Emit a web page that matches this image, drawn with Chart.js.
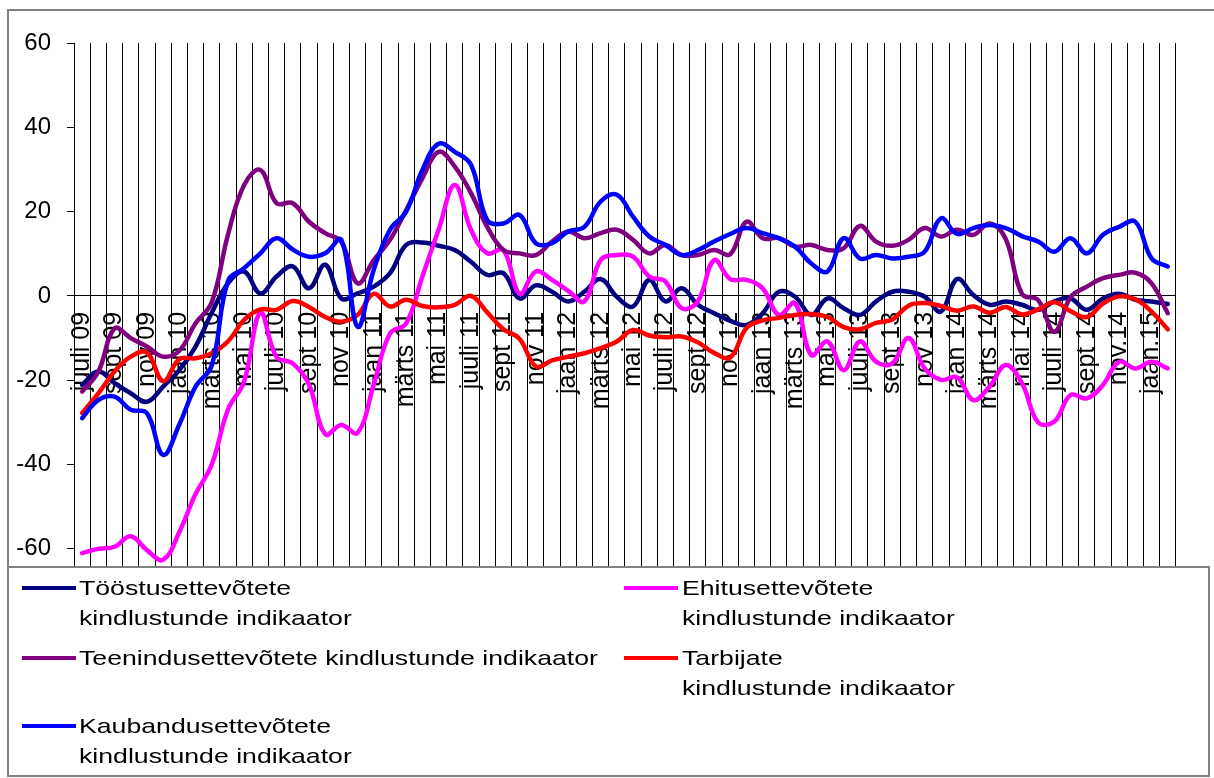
<!DOCTYPE html>
<html>
<head>
<meta charset="utf-8">
<script src="https://cdn.jsdelivr.net/npm/chart.js@4/dist/chart.umd.min.js"></script>
<style>
  html, body { margin: 0; padding: 0; background: #fff; }
  canvas { display: block; }
</style>
</head>
<body>
<canvas id="c" width="1214" height="778"></canvas>
<script>
// ---- Data (monthly, juuli 2009 – veebruar 2015) ----
const months = [
  "juuli 09","","sept 09","","nov 09","","jaan 10","","märts 10","",
  "mai 10","","juuli 10","","sept 10","","nov 10","","jaan 11","",
  "märts 11","","mai 11","","juuli 11","","sept 11","","nov 11","",
  "jaan 12","","märts 12","","mai 12","","juuli 12","","sept 12","",
  "nov 12","","jaan 13","","märts 13","","mai 13","","juuli 13","",
  "sept 13","","nov 13","","jaan 14","","märts 14","","mai 14","",
  "juuli 14","","sept 14","","nov.14","","jaan.15",""
];

const toostus = [
  -21.1, -17.9, -20.7, -23.1, -25.1, -21.5, -17.6, -12.0, -4.0, 3.0,
  5.8, 0.6, 4.6, 7.0, 1.8, 7.4, -0.6, 0.6, 2.2, 5.4,
  12.1, 12.7, 11.9, 10.9, 8.1, 5.0, 5.4, -0.6, 2.5, 1.0,
  -1.3, 1.0, 4.0, -0.2, -2.5, 3.8, -1.3, 1.8, -2.1, -4.1,
  -5.9, -6.9, -4.1, 1.0, -0.2, -4.5, -0.6, -2.9, -4.5, -1.3,
  1.0, 1.0, -0.2, -3.7, 4.0, 0.2, -2.1, -1.3, -2.1, -3.3,
  -1.3, -0.6, -3.3, -0.6, 0.5, -0.9, -1.3, -1.9
];
const ehitus = [
  -61.0, -60.0, -59.5, -57.0, -60.3, -62.6, -56.0, -47.0, -40.0, -27.0,
  -20.3, -4.0, -14.5, -16.0, -21.0, -32.8, -30.6, -32.5, -21.0, -8.9,
  -6.5, 4.6, 15.7, 26.3, 15.7, 10.1, 10.9, 0.5, 5.8, 3.8,
  1.2, -1.3, 8.5, 9.7, 9.3, 4.6, 3.4, -2.9, -1.3, 8.5,
  4.0, 3.8, 1.8, -4.5, -1.7, -14.0, -10.8, -17.6, -10.8, -15.6,
  -16.0, -10.0, -17.2, -19.9, -19.3, -24.7, -21.5, -16.4, -20.7, -30.0,
  -29.8, -23.5, -24.3, -21.1, -15.6, -17.2, -15.6, -17.2
];
const teenindus = [
  -22.7, -18.0, -7.7, -10.0, -12.0, -14.4, -13.0, -6.5, -1.5, 14.5,
  26.3, 29.9, 22.0, 22.0, 17.6, 14.9, 12.8, 3.0, 8.5, 13.3,
  20.4, 27.9, 34.2, 30.7, 24.4, 16.4, 10.9, 10.1, 9.7, 12.9,
  15.3, 13.7, 14.9, 15.7, 13.3, 10.1, 12.1, 9.7, 9.7, 10.9,
  9.9, 17.6, 13.7, 13.7, 11.7, 12.1, 10.9, 11.3, 16.6, 12.9,
  11.9, 13.3, 16.1, 14.1, 15.7, 14.5, 17.2, 13.5, 0.5, -1.0,
  -8.5, -0.3, 2.2, 4.2, 5.0, 5.5, 3.0, -4.1
];
const tarbijate = [
  -27.8, -23.1, -17.9, -14.4, -13.4, -20.2, -15.0, -14.8, -13.6, -10.8,
  -5.7, -3.2, -3.3, -1.2, -2.6, -5.0, -6.1, -4.5, 0.5, -2.5,
  -0.9, -2.4, -2.7, -2.1, 0.0, -3.9, -7.9, -10.2, -16.7, -15.3,
  -14.4, -13.6, -12.4, -10.8, -8.1, -9.4, -9.8, -9.6, -11.0, -13.5,
  -14.6, -7.6, -5.8, -5.2, -4.5, -4.3, -5.0, -7.4, -7.9, -6.4,
  -5.6, -2.3, -1.7, -2.4, -3.5, -2.5, -4.0, -2.6, -4.4, -3.2,
  -1.5, -3.6, -5.0, -1.8, -0.1, -0.8, -3.7, -7.9
];
const kaubandus = [
  -29.0, -24.7, -23.9, -27.0, -27.8, -37.7, -30.5, -21.5, -16.5, 3.5,
  6.6, 10.1, 13.7, 11.0, 9.3, 10.1, 13.3, -7.3, 6.2, 15.7,
  20.0, 29.9, 36.1, 34.2, 31.1, 18.0, 17.2, 19.2, 12.5, 12.5,
  15.3, 16.4, 22.4, 24.0, 18.8, 14.1, 12.1, 9.7, 10.9, 12.9,
  14.7, 16.1, 14.9, 13.7, 11.7, 7.7, 5.8, 13.7, 8.9, 9.7,
  8.9, 9.3, 10.5, 18.4, 14.7, 16.1, 16.8, 16.1, 14.2, 12.9,
  10.5, 13.7, 10.1, 14.5, 16.4, 17.6, 8.9, 7.0
];
const yTicks = [-60, -40, -20, 0, 20, 40, 60];

const seriesNames = {
  toostus: ["Tööstusettevõtete", "kindlustunde indikaator"],
  ehitus: ["Ehitusettevõtete", "kindlustunde indikaator"],
  teenindus: ["Teenindusettevõtete kindlustunde indikaator"],
  tarbijate: ["Tarbijate", "kindlustunde indikaator"],
  kaubandus: ["Kaubandusettevõtete", "kindlustunde indikaator"]
};
const colors = {
  toostus: "#000080", ehitus: "#FF00FF", teenindus: "#800080",
  tarbijate: "#FF0000", kaubandus: "#0000FF"
};

const FONT = 'Arial, "Liberation Sans", sans-serif';

function ds(key, data) {
  return {
    label: seriesNames[key].join(" "),
    data: data,
    borderColor: colors[key],
    backgroundColor: colors[key],
    borderWidth: 4.5,
    pointRadius: 0,
    pointHoverRadius: 0,
    tension: 0.4,
    fill: false,
    borderCapStyle: "round",
    borderJoinStyle: "round"
  };
}

// legend layout: [key, column, row]
const legendLayout = [
  ["toostus", 0, 0], ["ehitus", 1, 0],
  ["teenindus", 0, 1], ["tarbijate", 1, 1],
  ["kaubandus", 0, 2]
];

const framePlugin = {
  id: "frame",
  beforeDraw(chart) {
    const ctx = chart.ctx;
    ctx.save();
    ctx.fillStyle = "#fff";
    ctx.fillRect(0, 0, chart.width, chart.height);
    ctx.restore();
  },
  afterDraw(chart) {
    const ctx = chart.ctx;
    ctx.save();
    // outer chart border (top & left visible)
    ctx.strokeStyle = "#808080";
    ctx.lineWidth = 2;
    ctx.beginPath();
    ctx.moveTo(8, 776);
    ctx.lineTo(8, 10);
    ctx.lineTo(1214, 10);
    ctx.stroke();
    // legend box
    ctx.fillStyle = "#fff";
    ctx.fillRect(8, 567, 1201, 209);
    ctx.strokeRect(8, 567, 1201, 209);
    // legend entries
    const colSample = [22, 624];
    const colText = [79, 682];
    const rowY = [589, 659, 727];
    ctx.font = "21px " + FONT;
    ctx.textBaseline = "middle";
    ctx.fillStyle = "#000";
    legendLayout.forEach(([key, col, row]) => {
      const y = rowY[row];
      ctx.strokeStyle = colors[key];
      ctx.lineWidth = 4;
      ctx.lineCap = "butt";
      ctx.beginPath();
      ctx.moveTo(colSample[col], y - 1);
      ctx.lineTo(colSample[col] + 54, y - 1);
      ctx.stroke();
      seriesNames[key].forEach((line, i) => {
        ctx.save();
        ctx.translate(colText[col], y + i * 30);
        ctx.scale(1.27, 1);
        ctx.fillText(line, 0, 0);
        ctx.restore();
      });
    });
    ctx.restore();
  }
};

new Chart(document.getElementById("c"), {
  type: "line",
  data: {
    labels: months,
    // first dataset is drawn on top
    datasets: [
      ds("kaubandus", kaubandus),
      ds("tarbijate", tarbijate),
      ds("teenindus", teenindus),
      ds("ehitus", ehitus),
      ds("toostus", toostus)
    ]
  },
  options: {
    responsive: false,
    devicePixelRatio: 1,
    animation: false,
    events: [],
    layout: { padding: { left: 0, top: 43, right: 31, bottom: 211 } },
    plugins: {
      legend: { display: false },
      tooltip: { enabled: false },
      title: { display: false }
    },
    scales: {
      x: {
        type: "category",
        position: { y: 0 },
        offset: true,
        grid: {
          display: true,
          offset: true,
          color: "#000",
          lineWidth: 1,
          drawTicks: false,
          drawOnChartArea: true
        },
        border: { display: true, color: "#000", width: 1 },
        ticks: {
          autoSkip: false,
          minRotation: 90,
          maxRotation: 90,
          padding: 16,
          color: "#000",
          font: { family: FONT, size: 25 }
        }
      },
      y: {
        type: "linear",
        min: -64.3,
        max: 60,
        afterFit(scale) { scale.width = 74; },
        afterBuildTicks(scale) { scale.ticks = yTicks.map(v => ({ value: v })); },
        grid: {
          drawOnChartArea: false,
          drawTicks: true,
          tickLength: 7,
          tickColor: "#000",
          color: "#000"
        },
        border: { display: true, color: "#000", width: 1 },
        ticks: {
          padding: 16,
          color: "#000",
          font: { family: FONT, size: 24 },
          callback: (v) => String(v)
        }
      }
    }
  },
  plugins: [framePlugin]
});
</script>
</body>
</html>
